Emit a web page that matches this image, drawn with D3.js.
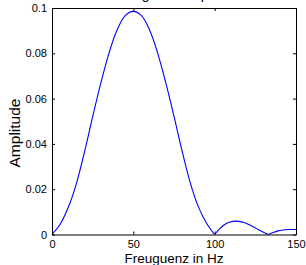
<!DOCTYPE html>
<html>
<head>
    <title>Amplitude</title>
    <script src="https://d3js.org/d3.v7.min.js"></script>
    <style>
        body { margin: 0; background: #fff; }
        svg { display: block; font-family: "Liberation Sans", Arial, Helvetica, sans-serif; }
        .axis text { font-size: 11px; fill: #000; }
        .axis path, .axis line { stroke: #000; }
    </style>
</head>
<body>
    <svg id="chart" width="306" height="265"></svg>

    <script>
        // values
        const freq = [0, 5, 10, 15, 20, 25, 30, 35, 40, 45, 50, 55, 60, 65, 70, 75, 80, 85, 90, 95, 100,
                      103, 106, 109, 112, 115, 118, 121, 124, 127, 130, 133,
                      136, 139, 142, 145, 148, 150];
        const amp = [0, 0.0045, 0.012, 0.0225, 0.0365, 0.052, 0.0668, 0.08, 0.0903, 0.0966, 0.0985,
                     0.0966, 0.0903, 0.08, 0.0668, 0.0522, 0.0368, 0.0228, 0.0122, 0.005, 0,
                     0.0025, 0.0043, 0.0054, 0.0059, 0.0058, 0.0053, 0.0044, 0.0033, 0.0021, 0.001, 0,
                     0.0009, 0.0016, 0.002, 0.0022, 0.0022, 0.0022];
        const xTicks = [0, 50, 100, 150];
        const yTicks = [0, 0.02, 0.04, 0.06, 0.08, 0.1];
        const yTickLabels = ["0", "0.02", "0.04", "0.06", "0.08", "0.1"];

        const svg = d3.select("svg#chart");
        const margin = { top: 8, right: 10, bottom: 30.5, left: 52 };
        const width = +svg.attr("width") - margin.left - margin.right;
        const height = +svg.attr("height") - margin.top - margin.bottom;
        const x = d3.scaleLinear().domain([0, 150]).range([0, width]);
        const y = d3.scaleLinear().domain([0, 0.1]).range([height, 0]);
        const g = svg.append("g").attr("transform", "translate(" + margin.left + "," + margin.top + ")");

        // title, mostly cut off by the top edge like in the original
        svg.append("text")
            .attr("x", margin.left + width / 2)
            .attr("y", -1)
            .attr("text-anchor", "middle")
            .style("font-size", "14px")
            .text("Leistungsdichtespektrum");

        // split the curve at the zeros so the dips stay sharp
        const points = freq.map((f, i) => ({ f: f, a: amp[i] }));
        const segments = [[]];
        points.forEach((p, i) => {
            segments[segments.length - 1].push(p);
            if (p.a === 0 && i > 0 && i < points.length - 1) segments.push([p]);
        });

        const line = d3.line()
            .x(d => x(d.f))
            .y(d => y(d.a))
            .curve(d3.curveCatmullRom.alpha(0.5));

        g.selectAll(".lobe")
            .data(segments)
            .enter().append("path")
            .attr("class", "lobe")
            .attr("d", line)
            .attr("fill", "none")
            .attr("stroke", "#0000ff")
            .attr("stroke-width", 1.1);

        // box with inward ticks on all four sides
        g.append("g")
            .attr("class", "axis")
            .attr("transform", "translate(0," + height + ")")
            .call(d3.axisBottom(x).tickValues(xTicks).tickSizeInner(-3).tickSizeOuter(0).tickPadding(6));

        g.append("g")
            .attr("class", "axis")
            .call(d3.axisLeft(y).tickValues(yTicks).tickFormat((d, i) => yTickLabels[i])
                .tickSizeInner(-3).tickSizeOuter(0).tickPadding(5));

        g.append("g")
            .attr("class", "axis")
            .call(d3.axisTop(x).tickValues(xTicks).tickFormat("").tickSizeInner(-3).tickSizeOuter(0));

        g.append("g")
            .attr("class", "axis")
            .attr("transform", "translate(" + width + ",0)")
            .call(d3.axisRight(y).tickValues(yTicks).tickFormat("").tickSizeInner(-3).tickSizeOuter(0));

        g.selectAll(".axis text").style("font-size", "11px").style("font-family", "inherit");

        // axis labels
        svg.append("text")
            .attr("x", margin.left + width / 2)
            .attr("y", 263)
            .attr("text-anchor", "middle")
            .style("font-size", "13.5px")
            .text("Freuguenz in Hz");

        svg.append("text")
            .attr("transform", "translate(19.5,133) rotate(-90)")
            .attr("text-anchor", "middle")
            .style("font-size", "15.5px")
            .text("Amplitude");
    </script>
</body>
</html>
